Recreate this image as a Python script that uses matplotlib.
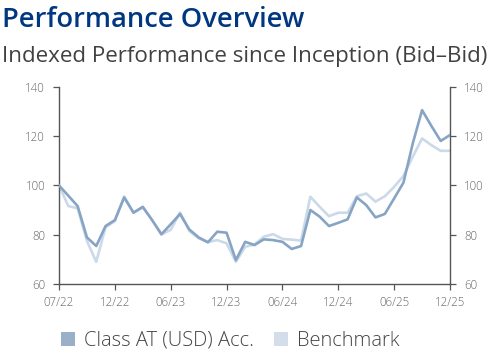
import matplotlib
matplotlib.use("Agg")
import matplotlib.pyplot as plt
from matplotlib.patches import Patch

plt.rcParams['font.family'] = ['Open Sans', 'DejaVu Sans']

title = "Performance Overview"
subtitle = "Indexed Performance since Inception (Bid\u2013Bid)"
series_names = ["Class AT (USD) Acc.", "Benchmark"]

class_values = [100.0, 95.8, 91.6, 78.9, 75.4, 83.5, 85.9, 95.1, 88.9, 91.3,
                85.9, 80.2, 84.2, 88.4, 82.1, 78.9, 76.9, 81.2, 80.8, 69.7,
                77.1, 75.8, 78.1, 77.8, 77.1, 74.2, 75.4, 90.0, 87.3, 83.5,
                84.8, 86.2, 95.1, 92.0, 87.0, 88.4, 94.7, 101.1, 117.0, 130.5,
                124.1, 118.0, 120.4]
bench_values = [100.0, 91.6, 90.7, 77.5, 69.0, 83.0, 85.5, 95.5, 89.0, 91.0,
                86.0, 80.0, 82.0, 89.0, 81.5, 78.5, 77.0, 77.8, 76.5, 69.0,
                75.1, 76.0, 79.2, 80.2, 78.3, 78.0, 77.6, 95.4, 91.3, 87.5,
                88.9, 88.9, 95.6, 96.7, 93.4, 95.6, 99.4, 103.8, 111.6, 119.0,
                116.3, 114.0, 114.0]
x_tick_labels = ["07/22", "12/22", "06/23", "12/23", "06/24", "12/24", "06/25", "12/25"]
y_ticks = [60, 80, 100, 120, 140]

class_color = "#88a4c4"
bench_color = "#cbd9e8"
axis_color = "#555555"
label_color = "#666666"

fig = plt.figure(figsize=(4.99, 3.55), dpi=100)
ax = fig.add_axes([59/499, 1-284/355, (450-59)/499, (284-86.7)/355])

x = list(range(len(class_values)))
ax.plot(x, bench_values, color=bench_color, lw=1.9, zorder=2)
ax.plot(x, class_values, color=class_color, lw=1.9, zorder=3)

ax.set_xlim(0, len(class_values) - 1)
ax.set_ylim(60, 140)
ax.set_xticks([0, 6, 12, 18, 24, 30, 36, 42])
ax.set_xticklabels(x_tick_labels)
ax.set_yticks(y_ticks)

for s in ['left', 'right', 'bottom']:
    ax.spines[s].set_color(axis_color)
    ax.spines[s].set_linewidth(1.0)
ax.spines['top'].set_visible(False)
ax.tick_params(axis='both', direction='out', length=4, width=0.9, color=axis_color,
               labelcolor=label_color, labelsize=8.3)
ax.tick_params(axis='y', right=True, labelright=True, pad=6)
ax.tick_params(axis='x', pad=5)
for lbl in ax.get_xticklabels() + ax.get_yticklabels():
    lbl.set_fontweight('light')

fig.text(2/499, 1-26.7/355, title, fontsize=19.7, fontweight='semibold', color="#003781",
         va='baseline', ha='left')
fig.text(2/499, 1-61.7/355, subtitle, fontsize=16.1, color="#414141", va='baseline', ha='left')

handles = [Patch(facecolor="#9ab0c9", edgecolor='none'), Patch(facecolor="#d3deea", edgecolor='none')]
leg = fig.legend(handles, series_names, loc='center left', bbox_to_anchor=(61/499, 1-341/355), ncol=2,
                 frameon=False, fontsize=14.5, handlelength=0.7, handleheight=0.7, handletextpad=0.45,
                 columnspacing=1.0, labelcolor="#444444", borderaxespad=0, borderpad=0)
for t in leg.get_texts():
    t.set_fontweight('light')

fig.savefig("out.png", dpi=100)
